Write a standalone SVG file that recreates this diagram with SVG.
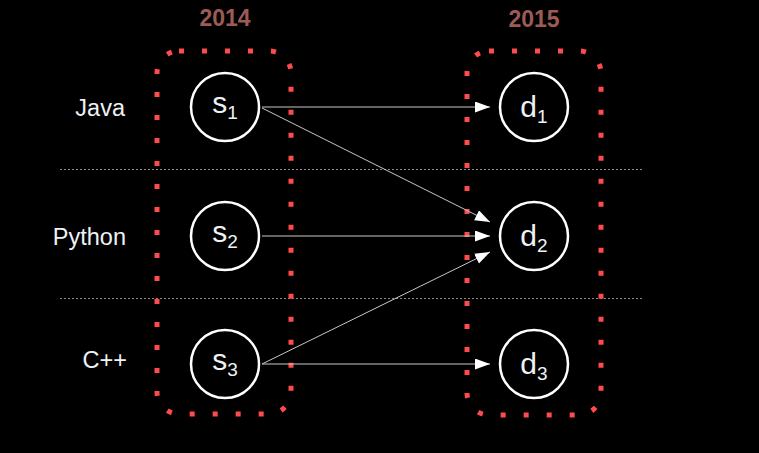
<svg xmlns="http://www.w3.org/2000/svg" width="759" height="453" viewBox="0 0 759 453">
<defs>
<marker id="arr" markerUnits="userSpaceOnUse" markerWidth="16" markerHeight="12" refX="15" refY="5.5" orient="auto">
<path d="M0,0 L15,5.5 L0,11 z" fill="#fff"/>
</marker>
<style>
.year{font-family:"Liberation Sans",Arial,sans-serif;font-size:23px;font-weight:bold;fill:#9c5b55;text-anchor:middle}
.lang{font-family:"Liberation Sans",Arial,sans-serif;font-size:23.5px;fill:#eef2f5;text-anchor:end}
.box{fill:none;stroke:#ff4b4b;stroke-width:5;stroke-dasharray:5 18}
.sep{stroke:#8a8a8a;stroke-width:1;stroke-dasharray:2 2}
.node circle{fill:#000;stroke:#fff;stroke-width:2.5}
.node text{font-family:"Liberation Sans",Arial,sans-serif;font-size:30px;fill:#eef2f5;text-anchor:middle}
.node tspan.sub{font-size:19px}
.edge{stroke:#c8c8c8;stroke-width:1;fill:none;marker-end:url(#arr)}
</style>
</defs>
<rect width="759" height="453" fill="#000"/>
<text class="year" x="225" y="26">2014</text>
<text class="year" x="534" y="27">2015</text>
<line class="sep" x1="60" y1="169.5" x2="643" y2="169.5"/>
<line class="sep" x1="60" y1="298.5" x2="643" y2="298.5"/>
<text class="lang" x="125" y="116">Java</text>
<text class="lang" x="126" y="245">Python</text>
<text class="lang" x="127" y="368">C++</text>
<rect class="box" x="157" y="51" width="134" height="363" rx="22"/>
<rect class="box" x="467" y="51" width="134" height="364" rx="22"/>
<g id="connectors">
<line class="edge" x1="262" y1="107" x2="490" y2="107"/>
<line class="edge" x1="262" y1="108" x2="490" y2="222"/>
<line class="edge" x1="262" y1="236" x2="490" y2="236"/>
<line class="edge" x1="262" y1="364" x2="490" y2="252"/>
<line class="edge" x1="262" y1="364" x2="490" y2="364"/>
</g>
<g id="s1" class="node"><circle cx="225" cy="107" r="34"/><text x="225" y="113">s<tspan class="sub" dy="6">1</tspan></text></g>
<g id="s2" class="node"><circle cx="225" cy="236" r="34"/><text x="225" y="242">s<tspan class="sub" dy="6">2</tspan></text></g>
<g id="s3" class="node"><circle cx="225" cy="364" r="34"/><text x="225" y="370">s<tspan class="sub" dy="6">3</tspan></text></g>
<g id="d1" class="node"><circle cx="534" cy="107" r="34"/><text x="534" y="117">d<tspan class="sub" dy="6">1</tspan></text></g>
<g id="d2" class="node"><circle cx="534" cy="236" r="34"/><text x="534" y="246">d<tspan class="sub" dy="6">2</tspan></text></g>
<g id="d3" class="node"><circle cx="534" cy="364" r="34"/><text x="534" y="374">d<tspan class="sub" dy="6">3</tspan></text></g>
</svg>
